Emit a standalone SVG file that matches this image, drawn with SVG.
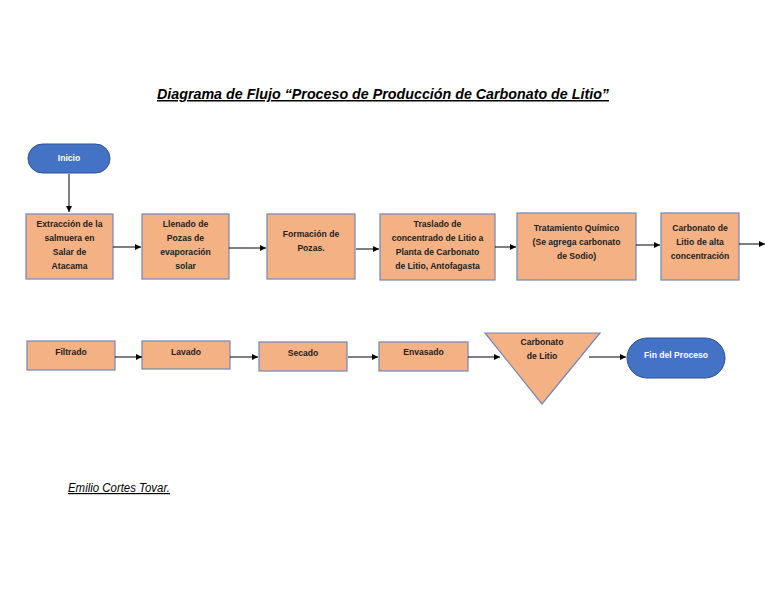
<svg xmlns="http://www.w3.org/2000/svg" width="768" height="594" viewBox="0 0 768 594">
<defs>
<marker id="arr" markerWidth="8" markerHeight="8" refX="6" refY="3" orient="auto" markerUnits="userSpaceOnUse">
<path d="M0,0 L6,3 L0,6 z" fill="#000"/>
</marker>
<style>
.box{fill:#F4B183;stroke:#7086BC;stroke-width:1.2}
.pill{fill:#4472C4;stroke:#2F528F;stroke-width:1}
.t{font-family:"Liberation Sans",Arial,sans-serif;font-size:8.6px;font-weight:bold;fill:#222;text-anchor:middle}
.tw{font-family:"Liberation Sans",Arial,sans-serif;font-size:8.6px;font-weight:bold;fill:#fff;text-anchor:middle}
.c{stroke:#000;stroke-width:1;fill:none;marker-end:url(#arr)}
</style>
</defs>
<rect width="768" height="594" fill="#fff"/>
<text x="383" y="99" font-family="Liberation Sans,Arial,sans-serif" font-size="15" font-style="italic" font-weight="bold" text-anchor="middle" text-decoration="underline" textLength="452" lengthAdjust="spacingAndGlyphs" fill="#000">Diagrama de Flujo “Proceso de Producción de Carbonato de Litio”</text>
<g id="inicio"><rect class="pill" x="28" y="144" width="82" height="29" rx="14.5"/><text class="tw" x="69" y="161">Inicio</text></g>
<g id="n1"><rect class="box" x="26" y="214" width="87" height="65"/><text class="t" x="69.5" y="227">Extracción de la</text><text class="t" x="69.5" y="241">salmuera en</text><text class="t" x="69.5" y="255">Salar de</text><text class="t" x="69.5" y="269">Atacama</text></g>
<g id="n2"><rect class="box" x="142" y="214" width="87" height="65"/><text class="t" x="185.5" y="227">Llenado de</text><text class="t" x="185.5" y="241">Pozas de</text><text class="t" x="185.5" y="255">evaporación</text><text class="t" x="185.5" y="269">solar</text></g>
<g id="n3"><rect class="box" x="267" y="214" width="88" height="65"/><text class="t" x="311" y="237">Formación de</text><text class="t" x="311" y="251">Pozas.</text></g>
<g id="n4"><rect class="box" x="380" y="214" width="115" height="66"/><text class="t" x="437.5" y="227">Traslado de</text><text class="t" x="437.5" y="241">concentrado de Litio a</text><text class="t" x="437.5" y="255">Planta de Carbonato</text><text class="t" x="437.5" y="269">de Litio, Antofagasta</text></g>
<g id="n5"><rect class="box" x="517" y="213" width="119" height="67"/><text class="t" x="576.5" y="231">Tratamiento Químico</text><text class="t" x="576.5" y="245">(Se agrega carbonato</text><text class="t" x="576.5" y="259">de Sodio)</text></g>
<g id="n6"><rect class="box" x="661" y="213" width="78" height="67"/><text class="t" x="700" y="231">Carbonato de</text><text class="t" x="700" y="245">Litio de alta</text><text class="t" x="700" y="259">concentración</text></g>
<g id="n7"><rect class="box" x="27" y="341" width="88" height="29"/><text class="t" x="71" y="355">Filtrado</text></g>
<g id="n8"><rect class="box" x="142" y="341" width="88" height="28"/><text class="t" x="186" y="355">Lavado</text></g>
<g id="n9"><rect class="box" x="259" y="342" width="88" height="29"/><text class="t" x="303" y="356">Secado</text></g>
<g id="n10"><rect class="box" x="379" y="342" width="89" height="29"/><text class="t" x="423.5" y="355">Envasado</text></g>
<g id="n11"><polygon class="box" points="485,333 600,333 542,404"/><text class="t" x="542" y="345">Carbonato</text><text class="t" x="542" y="359">de Litio</text></g>
<g id="fin"><rect class="pill" x="627" y="338" width="98" height="40" rx="20"/><text class="tw" x="676" y="358">Fin del Proceso</text></g>
<g id="connectors">
<line class="c" x1="69" y1="174" x2="69" y2="212"/>
<line class="c" x1="113" y1="247" x2="141" y2="247"/>
<line class="c" x1="229" y1="248" x2="266" y2="248"/>
<line class="c" x1="356" y1="249" x2="379" y2="249"/>
<line class="c" x1="495" y1="247" x2="516" y2="247"/>
<line class="c" x1="636" y1="245" x2="660" y2="245"/>
<line class="c" x1="739" y1="244" x2="765" y2="244"/>
<line class="c" x1="115" y1="357" x2="142" y2="357"/>
<line class="c" x1="230" y1="357" x2="258" y2="357"/>
<line class="c" x1="348" y1="357" x2="378" y2="357"/>
<line class="c" x1="468" y1="357" x2="500" y2="357"/>
<line class="c" x1="589" y1="357" x2="626" y2="357"/>
</g>
<text x="68" y="492" font-family="Liberation Sans,Arial,sans-serif" font-size="12" font-style="italic" text-decoration="underline" textLength="102" lengthAdjust="spacingAndGlyphs" fill="#000">Emilio Cortes Tovar.</text>
</svg>
